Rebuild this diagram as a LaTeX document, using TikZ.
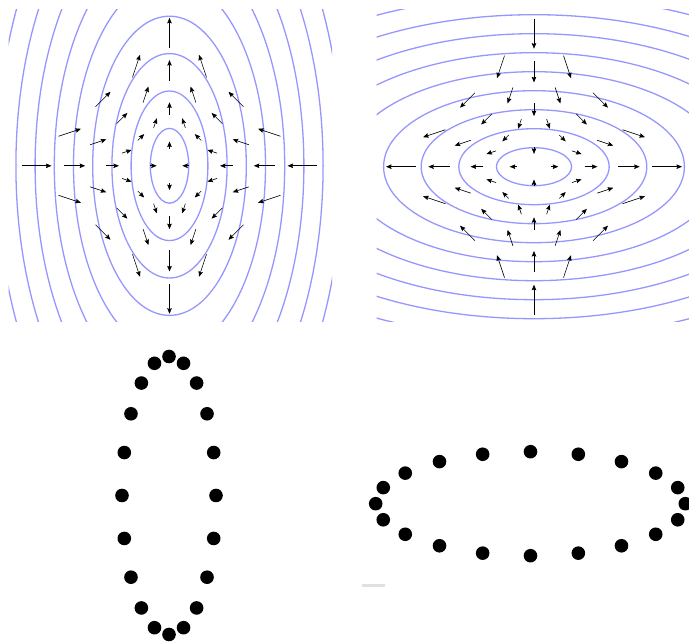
\documentclass[tikz,border=0pt]{standalone}
\usetikzlibrary{arrows.meta,calc}
\definecolor{contour}{RGB}{150,150,255}
\definecolor{markgray}{RGB}{225,225,225}
\begin{document}
\begin{tikzpicture}[x=1pt,y=1pt,
  contourline/.style={draw=contour, line width=1.3pt},
  vec/.style={draw=black, line width=0.6pt, -{Stealth[length=5.5pt,width=4.5pt,inset=0.8pt]}},
  dot/.style={fill=black}]
\useasboundingbox (0,0) rectangle (689,643);
\def\diamondpts{1/0, .75/.25, .5/.5, .25/.75, 0/1, -.25/.75, -.5/.5, -.75/.25, -1/0, -.75/-.25, -.5/-.5, -.25/-.75, 0/-1, .25/-.75, .5/-.5, .75/-.25}
% ---------- top left panel ----------
\coordinate (cA) at (169.5,477.2);
\begin{scope}
  \clip (8.5,321) rectangle (332,633);
  \foreach \k in {1,...,10}
    \draw[contourline] (cA) ellipse [x radius=19.2*\k, y radius=37.4*\k];
\end{scope}
\begin{scope}[shift={(cA)}]
  \foreach \r in {57,95,133}
    \foreach \ux/\uy in \diamondpts
      \draw[vec] ({1.1125*\r*(\ux)},{0.8875*\r*(\uy)}) -- ({0.8875*\r*(\ux)},{1.1125*\r*(\uy)});
  \draw[vec] (-19.5,0) -- (-12.8,0);
  \draw[vec] (19.5,0) -- (12.8,0);
  \draw[vec] (0,17.2) -- (0,24.3);
  \draw[vec] (0,-17.2) -- (0,-24.3);
\end{scope}
% ---------- top right panel ----------
\coordinate (cB) at (534,476.3);
\begin{scope}
  \clip (376.5,321) rectangle (689,633);
  \foreach \k in {1,...,10}
    \draw[contourline] (cB) ellipse [x radius=37.6*\k, y radius=19*\k];
\end{scope}
\begin{scope}[shift={(cB)}]
  \foreach \r in {57,95,133}
    \foreach \ux/\uy in \diamondpts
      \draw[vec] ({0.8875*\r*(\ux)},{1.1125*\r*(\uy)}) -- ({1.1125*\r*(\ux)},{0.8875*\r*(\uy)});
  \draw[vec] (17.2,0) -- (24.3,0);
  \draw[vec] (-17.2,0) -- (-24.3,0);
  \draw[vec] (0,19.5) -- (0,12.8);
  \draw[vec] (0,-19.5) -- (0,-12.8);
\end{scope}
% ---------- bottom left dots ----------
\coordinate (cC) at (169,147.5);
\foreach \i in {0,...,19}
  \fill[dot] ($(cC)+({47*cos(18*\i)},{139*sin(18*\i)})$) circle (6.8);
% ---------- bottom right dots ----------
\coordinate (cD) at (530.5,139.3);
\foreach \i in {0,...,19}
  \fill[dot] ($(cD)+({154.8*cos(18*\i)},{52*sin(18*\i)})$) circle (6.8);
% small gray mark
\fill[markgray] (362,55.7) rectangle (385,58.7);
\end{tikzpicture}
\end{document}
